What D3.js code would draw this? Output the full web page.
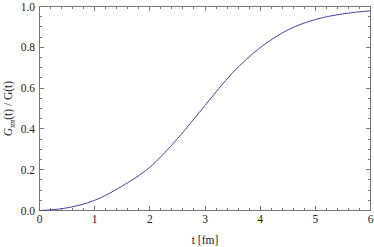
<!DOCTYPE html>
<html lang="en">
<head>
<meta charset="UTF-8">
<title>G_pipi(t) / G(t)</title>
<script src="https://d3js.org/d3.v7.min.js"></script>
<style>
  body { margin: 0; background: #fff; }
</style>
</head>
<body>
<svg width="374" height="247"></svg>
<script>
// curve
const tValues = [0, 0.5, 1.0, 1.5, 2.0, 2.5, 3.0, 3.5, 4.0, 4.5, 5.0, 5.5, 6.0];
const ratioValues = [0, 0.013, 0.05, 0.12, 0.212, 0.352, 0.515, 0.675, 0.798, 0.885, 0.936, 0.964, 0.979];
const xTicks = [0, 1, 2, 3, 4, 5, 6];
const yTicks = [0.0, 0.2, 0.4, 0.6, 0.8, 1.0];

const FONT = "'Liberation Serif', 'Times New Roman', serif";

const svg = d3.select("svg");
const mLeft = 39.5, mRight = 370.5, mTop = 6.5, mBottom = 210.5;

const x = d3.scaleLinear().domain([0, 6]).range([mLeft, mRight]);
const y = d3.scaleLinear().domain([0, 1]).range([mBottom, mTop]);

const frameColor = "#777";

// ticks on all four sides, pointing in
const xMinor = d3.range(0, 6.0001, 0.2).filter(v => Math.abs(v - Math.round(v)) > 1e-6);
const yMinor = d3.range(0, 1.0001, 0.05).filter(v => Math.abs(v * 5 - Math.round(v * 5)) > 1e-6);

const g = svg.append("g").attr("stroke", frameColor).attr("stroke-width", 1);

function tickLines(vals, len) {
  vals.forEach(v => {
    const px = Math.round(x(v) - 0.5) + 0.5;
    g.append("line").attr("x1", px).attr("x2", px).attr("y1", mBottom).attr("y2", mBottom - len);
    g.append("line").attr("x1", px).attr("x2", px).attr("y1", mTop).attr("y2", mTop + len);
  });
}
function tickLinesY(vals, len) {
  vals.forEach(v => {
    const py = Math.round(y(v) - 0.5) + 0.5;
    g.append("line").attr("y1", py).attr("y2", py).attr("x1", mLeft).attr("x2", mLeft + len);
    g.append("line").attr("y1", py).attr("y2", py).attr("x1", mRight).attr("x2", mRight - len);
  });
}
tickLines(xTicks, 4.5);
tickLines(xMinor, 2.5);
tickLinesY(yTicks, 4.5);
tickLinesY(yMinor, 2.5);

g.append("rect")
  .attr("x", mLeft).attr("y", mTop)
  .attr("width", mRight - mLeft).attr("height", mBottom - mTop)
  .attr("fill", "none");

// tick labels
svg.append("g").selectAll("text").data(xTicks).join("text")
  .attr("x", d => x(d))
  .attr("y", 223)
  .attr("text-anchor", "middle")
  .attr("font-family", FONT)
  .attr("font-size", 11.5)
  .attr("fill", "#222")
  .text(d => d);

svg.append("g").selectAll("text").data(yTicks).join("text")
  .attr("x", 35)
  .attr("y", d => y(d) + 4)
  .attr("text-anchor", "end")
  .attr("font-family", FONT)
  .attr("font-size", 11.5)
  .attr("fill", "#222")
  .text(d => d3.format(".1f")(d));

// axis titles
svg.append("text")
  .attr("x", x(3))
  .attr("y", 244)
  .attr("text-anchor", "middle")
  .attr("font-family", FONT)
  .attr("font-size", 11.5)
  .attr("fill", "#222")
  .text("t [fm]");

const yl = svg.append("text")
  .attr("transform", `translate(12,${(mTop + mBottom) / 2}) rotate(-90)`)
  .attr("text-anchor", "middle")
  .attr("font-family", FONT)
  .attr("font-size", 11.5)
  .attr("fill", "#222");
yl.append("tspan").attr("font-style", "italic").text("G");
yl.append("tspan").attr("font-size", 8).attr("font-style", "italic").attr("dy", 2.5).text("ππ");
yl.append("tspan").attr("dy", -2.5).text("(t) / G(t)");

// the curve
const line = d3.line()
  .x((d, i) => x(tValues[i]))
  .y(d => y(d))
  .curve(d3.curveMonotoneX);

svg.append("path")
  .datum(ratioValues)
  .attr("d", line)
  .attr("fill", "none")
  .attr("stroke", "#4444a6")
  .attr("stroke-width", 1);
</script>
</body>
</html>
